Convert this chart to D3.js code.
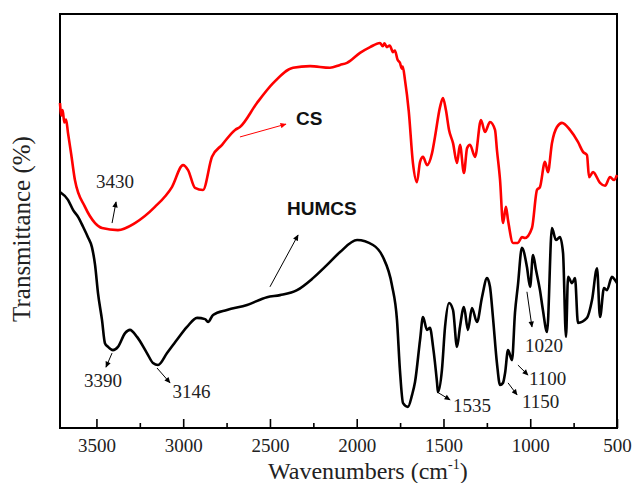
<!DOCTYPE html>
<html>
<head>
<meta charset="utf-8">
<script src="https://cdn.jsdelivr.net/npm/d3@7/dist/d3.min.js"></script>
<style>
  html, body { margin: 0; padding: 0; background: #fff; }
  svg { display: block; }
</style>
</head>
<body>
<svg id="chart" width="633" height="483"></svg>
<script>
// FTIR spectra of CS and HUMCS (transmittance, arbitrary offset units)
const majorTicks = [3500, 3000, 2500, 2000, 1500, 1000, 500];
const minorTicks = [3250, 2750, 2250, 1750, 1250, 750];

const csWavenumber = [3710, 3702, 3695, 3685, 3675, 3664, 3645, 3624, 3566, 3508, 3468, 3376, 3278, 3163, 3065, 3001, 2972, 2932, 2886, 2834, 2776, 2701, 2673, 2575, 2482, 2367, 2269, 2154, 2096, 2056, 1981, 1923, 1866, 1850, 1840, 1826, 1810, 1791, 1780, 1765, 1751, 1740, 1735, 1722, 1700, 1676, 1653, 1635, 1618, 1595, 1566, 1549, 1520, 1503, 1486, 1468, 1445, 1422, 1405, 1382, 1364, 1347, 1318, 1284, 1261, 1232, 1203, 1192, 1174, 1157, 1140, 1128, 1099, 1071, 1048, 1030, 990, 961, 944, 915, 898, 875, 846, 817, 771, 725, 696, 673, 661, 638, 598, 569, 540, 517, 500];
const csTransmittance = [78.5, 75.5, 76.8, 73.8, 74.5, 71.3, 66.0, 59.9, 53.4, 49.5, 48.3, 47.8, 49.5, 53.4, 58.2, 63.5, 62.3, 58.0, 57.5, 65.5, 68.4, 72.0, 72.7, 78.5, 83.3, 87.0, 87.4, 87.0, 87.7, 88.2, 90.6, 92.0, 93.0, 92.2, 92.9, 92.0, 92.4, 90.8, 91.2, 89.0, 88.2, 86.8, 87.3, 84.1, 76.5, 64.0, 59.4, 64.3, 65.5, 63.5, 66.4, 70.3, 77.5, 79.7, 76.8, 72.0, 68.8, 64.0, 68.4, 61.6, 67.6, 68.4, 65.5, 74.4, 71.5, 73.9, 72.0, 67.2, 59.9, 49.5, 53.4, 50.2, 44.7, 44.7, 46.1, 45.9, 48.3, 57.5, 58.2, 64.3, 61.8, 68.8, 72.7, 73.7, 72.0, 69.1, 66.7, 65.9, 60.6, 61.8, 59.2, 58.5, 60.6, 59.9, 61.1];

const humcsWavenumber = [3710, 3664, 3635, 3606, 3577, 3549, 3526, 3508, 3491, 3468, 3451, 3433, 3405, 3376, 3335, 3307, 3266, 3209, 3174, 3145, 3093, 3036, 2978, 2920, 2874, 2857, 2828, 2748, 2632, 2517, 2442, 2344, 2252, 2171, 2096, 1998, 1906, 1849, 1797, 1768, 1751, 1733, 1705, 1681, 1664, 1635, 1618, 1595, 1578, 1560, 1537, 1532, 1509, 1491, 1468, 1445, 1422, 1405, 1382, 1359, 1336, 1307, 1278, 1249, 1232, 1215, 1192, 1174, 1157, 1145, 1128, 1105, 1088, 1071, 1048, 1019, 1001, 984, 967, 944, 927, 903, 875, 852, 829, 811, 794, 782, 759, 742, 725, 673, 644, 615, 598, 575, 558, 529, 511, 500];
const humcsTransmittance = [57.0, 55.1, 52.7, 51.0, 48.6, 46.1, 43.7, 39.4, 32.6, 26.1, 20.5, 19.6, 18.8, 19.6, 22.9, 23.7, 22.0, 18.1, 15.7, 15.2, 18.1, 21.3, 24.4, 26.6, 26.3, 25.6, 27.3, 28.5, 29.7, 31.6, 32.1, 33.3, 36.2, 39.4, 42.5, 45.4, 44.2, 41.3, 34.5, 26.1, 14.0, 6.0, 5.1, 8.0, 11.1, 21.3, 26.8, 23.7, 24.2, 19.6, 10.9, 8.7, 14.0, 24.4, 30.2, 28.5, 19.6, 24.4, 29.2, 23.7, 29.0, 25.6, 31.6, 36.2, 34.1, 26.8, 15.7, 10.4, 10.9, 13.3, 18.8, 16.4, 27.8, 34.5, 43.5, 38.9, 34.1, 41.8, 38.2, 33.3, 28.5, 23.2, 48.3, 45.4, 46.1, 42.3, 22.0, 36.5, 35.0, 36.2, 25.4, 26.6, 30.9, 38.6, 26.8, 33.8, 33.3, 36.5, 35.7, 35.0];

// Peak annotations: label text, anchor point (wavenumber, value), arrow from/to
const peakNotes = [
  { text: "3430", lx: 3393, ly: 58.0, anchor: "middle", from: [3410, 49.5], to: [3387, 54.6] },
  { text: "3390", lx: 3462, ly: 9.9, anchor: "middle", from: [3410, 18.1], to: [3445, 14.7] },
  { text: "3146", lx: 2952, ly: 7.2, anchor: "middle", from: [3151, 14.5], to: [3076, 10.9] },
  { text: "1535", lx: 1445, ly: 3.9, anchor: "start", from: [1537, 8.7], to: [1462, 6.8] },
  { text: "1150", lx: 1048, ly: 4.8, anchor: "start", from: [1128, 10.9], to: [1076, 8.0] },
  { text: "1100", lx: 1007, ly: 10.4, anchor: "start", from: [1071, 15.2], to: [1013, 12.8] },
  { text: "1020", lx: 1030, ly: 18.4, anchor: "start", from: [1019, 32.9], to: [990, 24.4] }
];
const seriesNotes = [
  { text: "CS", lx: 2350, ly: 73.2, color: "#ff0000", from: [2673, 70.3], to: [2408, 73.4] },
  { text: "HUMCS", lx: 2402, ly: 51.5, color: "#000000", from: [2500, 34.1], to: [2338, 46.6] }
];

const svg = d3.select("#chart");
const plot = { left: 60, right: 617, top: 14, bottom: 428 };

const x = d3.scaleLinear().domain([3710, 500]).range([plot.left, plot.right]);
const y = d3.scaleLinear().domain([0, 100]).range([plot.bottom, plot.top]);

// arrowhead markers
const defs = svg.append("defs");
[["arrowBlack", "#000"], ["arrowRed", "#ff0000"]].forEach(([id, c]) => {
  defs.append("marker")
    .attr("id", id)
    .attr("viewBox", "0 0 10 10")
    .attr("refX", 9).attr("refY", 5)
    .attr("markerWidth", 7).attr("markerHeight", 6)
    .attr("markerUnits", "userSpaceOnUse")
    .attr("orient", "auto")
    .append("path").attr("d", "M0,0.5 L10,5 L0,9.5 z").attr("fill", c);
});

// frame
svg.append("rect")
  .attr("x", plot.left).attr("y", plot.top)
  .attr("width", plot.right - plot.left).attr("height", plot.bottom - plot.top)
  .attr("fill", "none").attr("stroke", "#000").attr("stroke-width", 2);

// bottom axis (ticks pointing inward)
const axisMajor = d3.axisBottom(x).tickValues(majorTicks)
  .tickSizeInner(-9).tickSizeOuter(0).tickPadding(10.5).tickFormat(d3.format("d"));
const gx = svg.append("g").attr("transform", `translate(0,${plot.bottom})`).call(axisMajor);
gx.select(".domain").remove();
gx.selectAll(".tick line").attr("stroke", "#000").attr("stroke-width", 1.6);
gx.selectAll(".tick text")
  .attr("font-family", "'Liberation Serif', 'Times New Roman', serif")
  .attr("font-size", 19).attr("fill", "#222");

const axisMinor = d3.axisBottom(x).tickValues(minorTicks)
  .tickSizeInner(-5).tickSizeOuter(0).tickFormat("");
const gm = svg.append("g").attr("transform", `translate(0,${plot.bottom})`).call(axisMinor);
gm.select(".domain").remove();
gm.selectAll(".tick line").attr("stroke", "#000").attr("stroke-width", 1.6);

// spectra
const line = d3.line().x(d => x(d[0])).y(d => y(d[1])).curve(d3.curveMonotoneX);
const csData = csWavenumber.map((w, i) => [w, csTransmittance[i]]);
const humcsData = humcsWavenumber.map((w, i) => [w, humcsTransmittance[i]]);

svg.append("path").datum(humcsData).attr("d", line)
  .attr("fill", "none").attr("stroke", "#000").attr("stroke-width", 2.6)
  .attr("stroke-linejoin", "round");
svg.append("path").datum(csData).attr("d", line)
  .attr("fill", "none").attr("stroke", "#ff0000").attr("stroke-width", 2.6)
  .attr("stroke-linejoin", "round");

// peak annotations
peakNotes.forEach(n => {
  svg.append("line")
    .attr("x1", x(n.from[0])).attr("y1", y(n.from[1]))
    .attr("x2", x(n.to[0])).attr("y2", y(n.to[1]))
    .attr("stroke", "#000").attr("stroke-width", 1)
    .attr("marker-end", "url(#arrowBlack)");
  svg.append("text")
    .attr("x", x(n.lx)).attr("y", y(n.ly))
    .attr("text-anchor", n.anchor)
    .attr("font-family", "'Liberation Serif', 'Times New Roman', serif")
    .attr("font-size", 19).attr("fill", "#222")
    .text(n.text);
});

seriesNotes.forEach(n => {
  svg.append("line")
    .attr("x1", x(n.from[0])).attr("y1", y(n.from[1]))
    .attr("x2", x(n.to[0])).attr("y2", y(n.to[1]))
    .attr("stroke", n.color).attr("stroke-width", 1)
    .attr("marker-end", n.color === "#000000" ? "url(#arrowBlack)" : "url(#arrowRed)");
  svg.append("text")
    .attr("x", x(n.lx)).attr("y", y(n.ly))
    .attr("font-family", "'Liberation Sans', Arial, sans-serif")
    .attr("font-weight", "bold")
    .attr("font-size", 19).attr("fill", "#111")
    .text(n.text);
});

// axis titles
const xTitle = svg.append("text")
  .attr("x", 268).attr("y", 479)
  .attr("font-family", "'Liberation Serif', 'Times New Roman', serif")
  .attr("font-size", 24).attr("fill", "#222");
xTitle.append("tspan").text("Wavenumbers (cm");
xTitle.append("tspan").attr("font-size", 14).attr("dy", -10).text("-1");
xTitle.append("tspan").attr("dy", 10).text(")");

svg.append("text")
  .attr("transform", "translate(30,229) rotate(-90)")
  .attr("text-anchor", "middle")
  .attr("font-family", "'Liberation Serif', 'Times New Roman', serif")
  .attr("font-size", 25).attr("fill", "#222")
  .text("Transmittance (%)");
</script>
</body>
</html>
